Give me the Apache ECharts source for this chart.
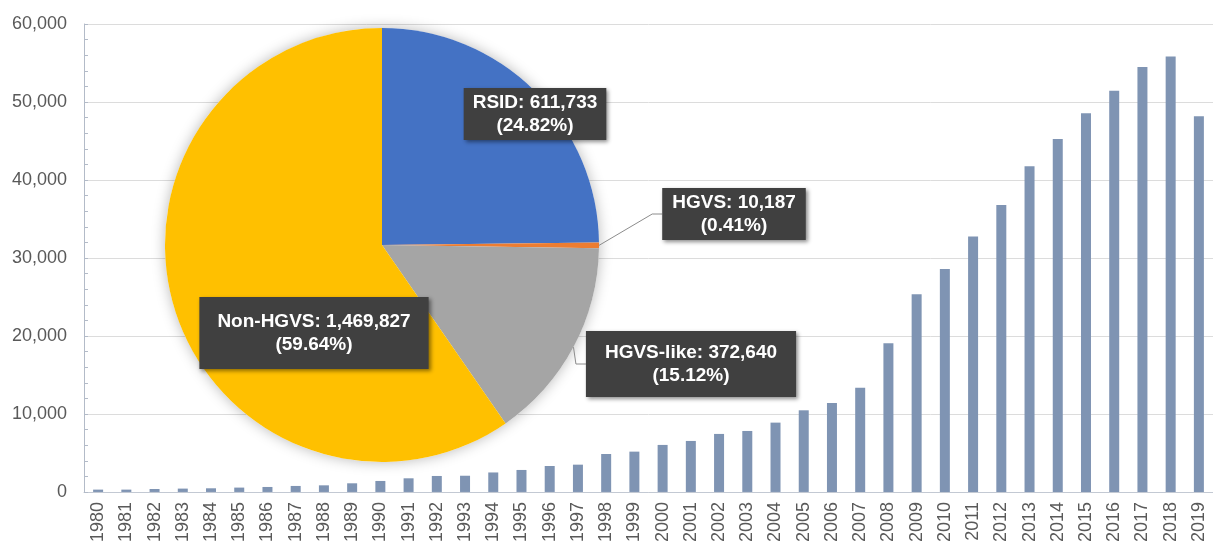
<!DOCTYPE html>
<html>
<head>
<meta charset="utf-8">
<script src="https://cdn.jsdelivr.net/npm/echarts@6/dist/echarts.min.js"></script>
<style>
  html, body { margin: 0; padding: 0; background: #ffffff; }
  #chart { width: 1213px; height: 545px; }
</style>
</head>
<body>
<div id="chart"></div>
<script>
// Yearly counts (bars)
const years = ['1980','1981','1982','1983','1984','1985','1986','1987','1988','1989',
  '1990','1991','1992','1993','1994','1995','1996','1997','1998','1999',
  '2000','2001','2002','2003','2004','2005','2006','2007','2008','2009',
  '2010','2011','2012','2013','2014','2015','2016','2017','2018','2019'];
const yearCounts = [300, 300, 380, 430, 470, 560, 640, 770, 850, 1110,
  1410, 1750, 2050, 2080, 2500, 2820, 3330, 3500, 4870, 5170,
  6030, 6540, 7440, 7820, 8890, 10470, 11410, 13350, 19060, 25340,
  28590, 32740, 36800, 41750, 45260, 48550, 51450, 54480, 55820, 48160];

// Mention types (pie)
const typeNames = ['RSID', 'HGVS', 'HGVS-like', 'Non-HGVS'];
const typeCounts = [611733, 10187, 372640, 1469827];
const typeColors = ['#4472C4', '#ED7D31', '#A5A5A5', '#FFC000'];

// Y axis ticks
const yMin = 0, yMax = 60000, yStep = 10000;

// Label box placement (centre x, centre y) and padding for each pie label
const labelBoxes = [
  { x: 535, y: 114, pad: [3, 9] },
  { x: 734, y: 214, pad: [3, 10] },
  { x: 691, y: 364, pad: [10, 19] },
  { x: 314, y: 333, pad: [13, 18] }
];
const showLeader = [false, true, true, false];

const total = typeCounts.reduce((a, b) => a + b, 0);
const fmt = v => v.toLocaleString('en-US');

const pieData = typeNames.map((n, i) => ({
  name: n,
  value: typeCounts[i],
  itemStyle: { color: typeColors[i] },
  label: { padding: labelBoxes[i].pad },
  labelLine: { show: showLeader[i] }
}));

const chart = echarts.init(document.getElementById('chart'), null, { renderer: 'canvas' });
const FONT = '"Liberation Sans", Arial, Helvetica, sans-serif';

chart.setOption({
  backgroundColor: '#ffffff',
  animation: false,
  grid: { left: 84, right: 0, top: 24, bottom: 53, containLabel: false },
  xAxis: {
    type: 'category',
    data: years,
    boundaryGap: true,
    axisLine: { show: true, lineStyle: { color: '#c3c9d3', width: 1 } },
    axisTick: { show: false },
    axisLabel: {
      interval: 0, rotate: 90, margin: 10,
      color: '#595959', fontSize: 18, fontFamily: FONT
    },
    splitLine: { show: false }
  },
  yAxis: {
    type: 'value',
    min: yMin, max: yMax, interval: yStep,
    axisLine: { show: true, lineStyle: { color: '#b3bbc8', width: 1 } },
    axisTick: { show: true, inside: true, length: 4, lineStyle: { color: '#b3bbc8' } },
    minorTick: { show: true, splitNumber: 5, length: 4, lineStyle: { color: '#b3bbc8' } },
    axisLabel: {
      margin: 17, color: '#595959', fontSize: 18, fontFamily: FONT,
      formatter: v => fmt(v)
    },
    splitLine: { show: true, lineStyle: { color: '#dcdcdc', width: 1 } }
  },
  series: [
    {
      type: 'bar',
      data: yearCounts,
      barWidth: 10,
      itemStyle: { color: '#7F94B3' },
      z: 2
    },
    {
      // soft backdrop shadow under the pie
      type: 'pie',
      silent: true,
      center: [382, 245],
      radius: 217,
      z: 4,
      label: { show: false },
      labelLine: { show: false },
      data: [{ value: total, itemStyle: { color: '#ffffff', shadowBlur: 14, shadowColor: 'rgba(0,0,0,0.28)' } }]
    },
    {
      type: 'pie',
      center: [382, 245],
      radius: 217,
      startAngle: 90,
      clockwise: true,
      avoidLabelOverlap: false,
      z: 5,
      data: pieData,
      label: {
        show: true,
        position: 'outside',
        formatter: p => p.name + ': ' + fmt(p.value) + '\n(' + (p.value / total * 100).toFixed(2) + '%)',
        color: '#ffffff',
        fontSize: 19,
        fontWeight: 'bold',
        fontFamily: FONT,
        lineHeight: 23,
        align: 'center',
        backgroundColor: '#404040',
        shadowBlur: 4,
        shadowColor: 'rgba(0,0,0,0.45)',
        shadowOffsetX: 2,
        shadowOffsetY: 2
      },
      labelLine: {
        length: 10, length2: 10,
        lineStyle: { color: '#8c8c8c', width: 1 }
      },
      labelLayout: p => ({
        x: labelBoxes[p.dataIndex].x,
        y: labelBoxes[p.dataIndex].y,
        align: 'center',
        verticalAlign: 'middle',
        moveOverlap: null
      })
    }
  ]
});
</script>
</body>
</html>
